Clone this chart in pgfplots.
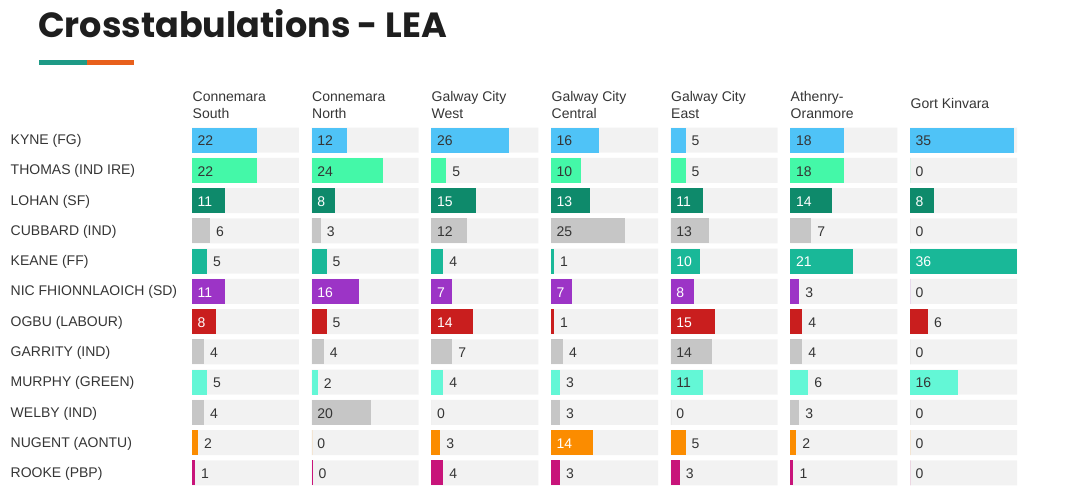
\documentclass[border=0pt]{standalone}
\usepackage{pgfplots}
\pgfplotsset{compat=1.18}
\usepackage{fontspec}
\setmainfont{Liberation Sans}
\newfontfamily\titlefont{Poppins}
\definecolor{kyne}{HTML}{4FC3F7}
\definecolor{thomas}{HTML}{44F8A8}
\definecolor{lohan}{HTML}{0E8A6B}
\definecolor{grey}{HTML}{C6C6C6}
\definecolor{keane}{HTML}{19B898}
\definecolor{nic}{HTML}{9C34C6}
\definecolor{ogbu}{HTML}{C91E1E}
\definecolor{murphy}{HTML}{63F7D6}
\definecolor{nugent}{HTML}{FB8C00}
\definecolor{rooke}{HTML}{C8147A}
\definecolor{bgc}{HTML}{F2F2F2}
\definecolor{dk}{HTML}{353535}
\definecolor{titlec}{HTML}{1E1E1E}
\definecolor{teal}{HTML}{1E9A86}
\definecolor{orng}{HTML}{E8601C}
\newcommand\lab{\fontsize{14}{16}\selectfont}
\pgfplotsset{cellaxis/.style={scale only axis, width=107pt, height=363.24pt,
  xmin=0, xmax=36, ymin=0.5, ymax=12.5, y dir=reverse, hide axis, clip=false,
  anchor=north west}}
\newcommand\bg{\addplot[xbar, bar width=25pt, bar shift=0pt, fill=bgc, draw=none]
  coordinates {(36,1)(36,2)(36,3)(36,4)(36,5)(36,6)(36,7)(36,8)(36,9)(36,10)(36,11)(36,12)};}
% inside, dark text
\newcommand\ci[4]{\addplot[xbar, bar width=25pt, bar shift=0pt, fill=#4, draw=none,
  point meta=explicit symbolic, nodes near coords, nodes near coords align=horizontal,
  every node near coord/.append style={anchor=west, inner sep=0pt, xshift={5.5pt-#2*2.9722pt}, yshift=-1pt, text=dk, font=\lab}]
  coordinates {(#2,#1) [#3]};}
% inside, white text
\newcommand\cw[4]{\addplot[xbar, bar width=25pt, bar shift=0pt, fill=#4, draw=none,
  point meta=explicit symbolic, nodes near coords, nodes near coords align=horizontal,
  every node near coord/.append style={anchor=west, inner sep=0pt, xshift={5.5pt-#2*2.9722pt}, yshift=-1pt, text=white, font=\lab}]
  coordinates {(#2,#1) [#3]};}
% outside
\newcommand\co[4]{\addplot[xbar, bar width=25pt, bar shift=0pt, fill=#4, draw=none,
  point meta=explicit symbolic, nodes near coords, nodes near coords align=horizontal,
  every node near coord/.append style={anchor=west, inner sep=0pt, xshift=6pt, yshift=-1pt, text=dk, font=\lab}]
  coordinates {(#2,#1) [#3]};}
\begin{document}
\begin{tikzpicture}
\path[use as bounding box] (0pt,0pt) rectangle (1084pt,-499pt);
% title
\node[anchor=base west, inner sep=0pt, text=titlec] at (38pt,-37pt) {\titlefont\bfseries\fontsize{35}{40}\selectfont Crosstabulations - LEA};
\fill[teal] (39pt,-59.5pt) rectangle (87pt,-64.5pt);
\fill[orng] (87pt,-59.5pt) rectangle (134pt,-64.5pt);
% headers
\begin{scope}[every node/.style={anchor=base west, inner sep=0pt, text=dk, font=\lab}]
\node at (192.5pt,-101pt) {Connemara}; \node at (192.5pt,-118pt) {South};
\node at (312pt,-101pt) {Connemara}; \node at (312pt,-118pt) {North};
\node at (431.5pt,-101pt) {Galway City}; \node at (431.5pt,-118pt) {West};
\node at (551.5pt,-101pt) {Galway City}; \node at (551.5pt,-118pt) {Central};
\node at (671pt,-101pt) {Galway City}; \node at (671pt,-118pt) {East};
\node at (790.5pt,-101pt) {Athenry-}; \node at (790.5pt,-118pt) {Oranmore};
\node at (910.5pt,-108pt) {Gort Kinvara};
\end{scope}
% row labels
\begin{scope}[every node/.style={anchor=west, inner sep=0pt, text=dk, font=\lab, yshift=-1pt}]
\node at (10.5pt,-140pt) {KYNE (FG)};
\node at (10.5pt,-170.27pt) {THOMAS (IND IRE)};
\node at (10.5pt,-200.54pt) {LOHAN (SF)};
\node at (10.5pt,-230.81pt) {CUBBARD (IND)};
\node at (10.5pt,-261.08pt) {KEANE (FF)};
\node at (10.5pt,-291.35pt) {NIC FHIONNLAOICH (SD)};
\node at (10.5pt,-321.62pt) {OGBU (LABOUR)};
\node at (10.5pt,-351.89pt) {GARRITY (IND)};
\node at (10.5pt,-382.16pt) {MURPHY (GREEN)};
\node at (10.5pt,-412.43pt) {WELBY (IND)};
\node at (10.5pt,-442.70pt) {NUGENT (AONTU)};
\node at (10.5pt,-472.97pt) {ROOKE (PBP)};
\end{scope}
% Connemara South
\begin{axis}[cellaxis, at={(192pt,-124.865pt)}]
\bg
\ci{1}{22}{22}{kyne} \ci{2}{22}{22}{thomas} \cw{3}{11}{11}{lohan} \co{4}{6}{6}{grey}
\co{5}{5}{5}{keane} \cw{6}{11}{11}{nic} \cw{7}{8}{8}{ogbu} \co{8}{4}{4}{grey}
\co{9}{5}{5}{murphy} \co{10}{4}{4}{grey} \co{11}{2}{2}{nugent} \co{12}{1}{1}{rooke}
\end{axis}
% Connemara North
\begin{axis}[cellaxis, at={(311.67pt,-124.865pt)}]
\bg
\ci{1}{12}{12}{kyne} \ci{2}{24}{24}{thomas} \cw{3}{8}{8}{lohan} \co{4}{3}{3}{grey}
\co{5}{5}{5}{keane} \cw{6}{16}{16}{nic} \co{7}{5}{5}{ogbu} \co{8}{4}{4}{grey}
\co{9}{2}{2}{murphy} \ci{10}{20}{20}{grey} \ci{11}{0}{0}{nugent} \co{12}{0.25}{0}{rooke}
\end{axis}
% Galway City West
\begin{axis}[cellaxis, at={(431.33pt,-124.865pt)}]
\bg
\ci{1}{26}{26}{kyne} \co{2}{5}{5}{thomas} \cw{3}{15}{15}{lohan} \ci{4}{12}{12}{grey}
\co{5}{4}{4}{keane} \cw{6}{7}{7}{nic} \cw{7}{14}{14}{ogbu} \co{8}{7}{7}{grey}
\co{9}{4}{4}{murphy} \ci{10}{0}{0}{grey} \co{11}{3}{3}{nugent} \co{12}{4}{4}{rooke}
\end{axis}
% Galway City Central
\begin{axis}[cellaxis, at={(551pt,-124.865pt)}]
\bg
\ci{1}{16}{16}{kyne} \ci{2}{10}{10}{thomas} \cw{3}{13}{13}{lohan} \ci{4}{25}{25}{grey}
\co{5}{1}{1}{keane} \cw{6}{7}{7}{nic} \co{7}{1}{1}{ogbu} \co{8}{4}{4}{grey}
\co{9}{3}{3}{murphy} \co{10}{3}{3}{grey} \cw{11}{14}{14}{nugent} \co{12}{3}{3}{rooke}
\end{axis}
% Galway City East
\begin{axis}[cellaxis, at={(670.67pt,-124.865pt)}]
\bg
\co{1}{5}{5}{kyne} \co{2}{5}{5}{thomas} \cw{3}{11}{11}{lohan} \ci{4}{13}{13}{grey}
\cw{5}{10}{10}{keane} \cw{6}{8}{8}{nic} \cw{7}{15}{15}{ogbu} \ci{8}{14}{14}{grey}
\ci{9}{11}{11}{murphy} \ci{10}{0}{0}{grey} \co{11}{5}{5}{nugent} \co{12}{3}{3}{rooke}
\end{axis}
% Athenry-Oranmore
\begin{axis}[cellaxis, at={(790.33pt,-124.865pt)}]
\bg
\ci{1}{18}{18}{kyne} \ci{2}{18}{18}{thomas} \cw{3}{14}{14}{lohan} \co{4}{7}{7}{grey}
\cw{5}{21}{21}{keane} \co{6}{3}{3}{nic} \co{7}{4}{4}{ogbu} \co{8}{4}{4}{grey}
\co{9}{6}{6}{murphy} \co{10}{3}{3}{grey} \co{11}{2}{2}{nugent} \co{12}{1}{1}{rooke}
\end{axis}
% Gort Kinvara
\begin{axis}[cellaxis, at={(910pt,-124.865pt)}]
\bg
\ci{1}{35}{35}{kyne} \ci{2}{0}{0}{thomas} \cw{3}{8}{8}{lohan} \ci{4}{0}{0}{grey}
\cw{5}{36}{36}{keane} \ci{6}{0}{0}{nic} \co{7}{6}{6}{ogbu} \ci{8}{0}{0}{grey}
\ci{9}{16}{16}{murphy} \ci{10}{0}{0}{grey} \ci{11}{0}{0}{nugent} \ci{12}{0}{0}{rooke}
\end{axis}
\end{tikzpicture}
\end{document}
